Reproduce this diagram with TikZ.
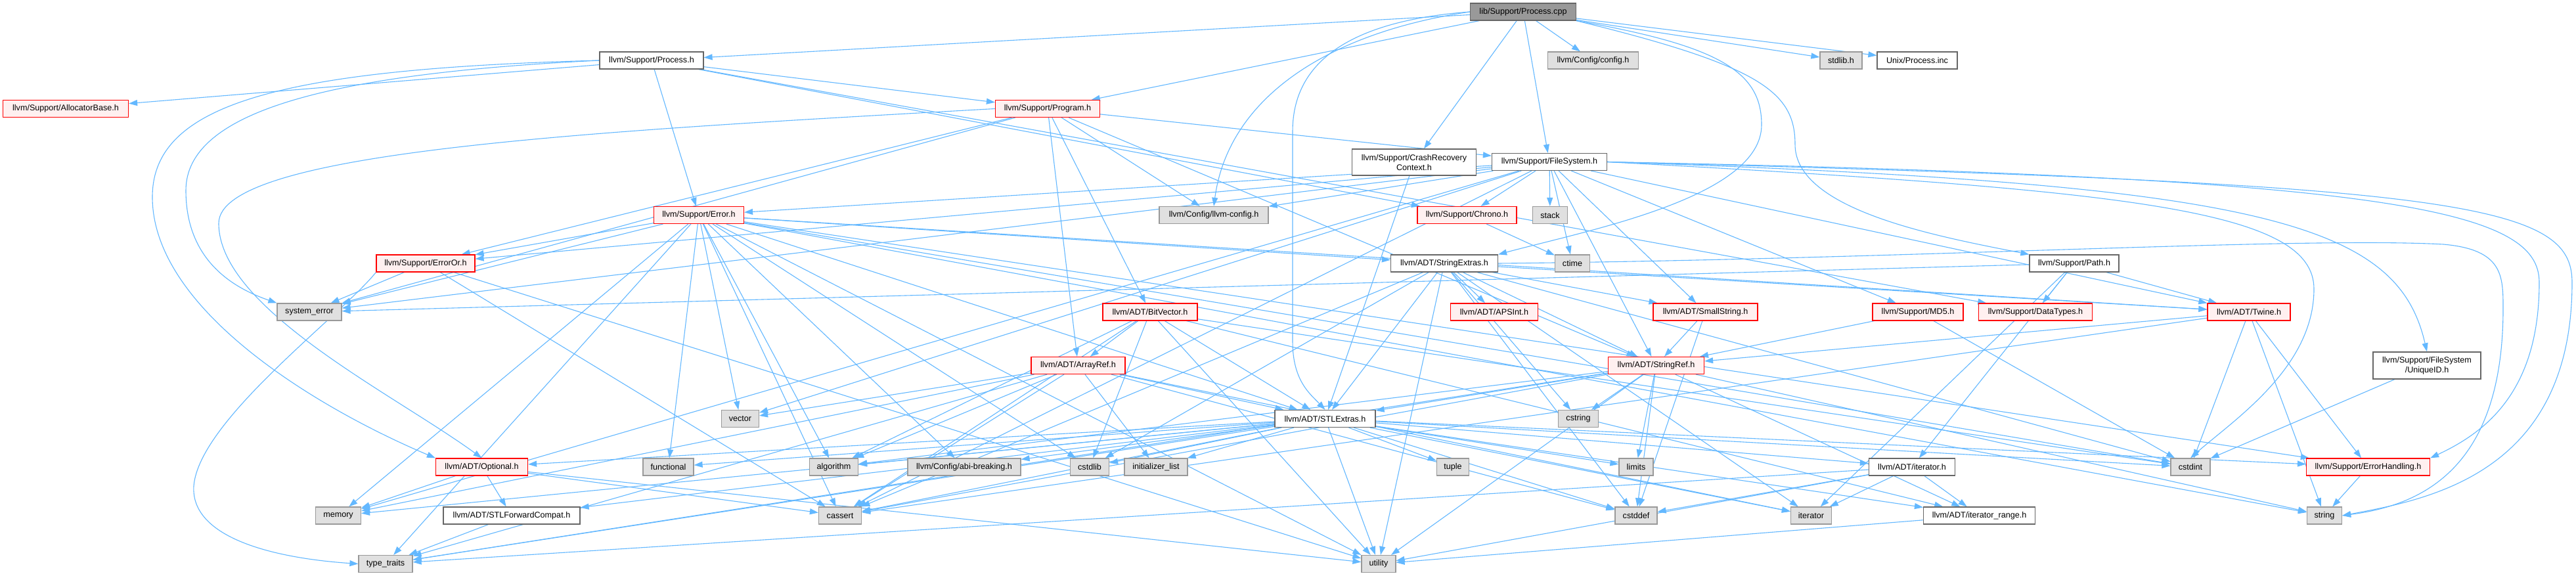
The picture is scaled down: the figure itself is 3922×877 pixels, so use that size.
\documentclass[tikz,border=0pt]{standalone}
\usepackage{fontspec}
\setmainfont{Liberation Sans}
\usetikzlibrary{arrows.meta}
\pgfdeclarelayer{bg}
\pgfsetlayers{bg,main}
\definecolor{edgec}{HTML}{63B8FF}
\definecolor{redb}{HTML}{FF0000}
\definecolor{redfill}{HTML}{FFF0F0}
\definecolor{grayb}{HTML}{999999}
\definecolor{grayfill}{HTML}{E0E0E0}
\definecolor{whiteb}{HTML}{666666}
\definecolor{rootfill}{HTML}{999999}
\definecolor{rootb}{HTML}{666666}
\newcommand\nodefont{\fontsize{12.6}{15}\selectfont}
\tikzset{
  basebox/.style={draw, line width=1.2pt, minimum height=26pt, inner sep=0pt, font=\nodefont, text=black, align=center},
  rednode/.style={basebox, draw=redb, fill=redfill},
  graynode/.style={basebox, draw=grayb, fill=grayfill},
  whitenode/.style={basebox, draw=whiteb, fill=white},
  rootnode/.style={basebox, draw=rootb, fill=rootfill},
  conn/.style={draw=edgec, line width=1.1pt, -{Triangle[length=13pt,width=9pt]}}
}
\begin{document}
\begin{tikzpicture}[x=1pt,y=-1pt]
\useasboundingbox (0,0) rectangle (3922,877);
\begin{pgfonlayer}{bg}
\fill[white] (0,0) rectangle (3922,877);
\end{pgfonlayer}
% nodes
\node[rootnode, minimum width=161pt] (pcpp) at (2319,18) {lib/Support/Process.cpp};
\node[whitenode, minimum width=158pt] (proch) at (992,92) {llvm/Support/Process.h};
\node[rednode, minimum width=191pt] (alloc) at (100,165.5) {llvm/Support/AllocatorBase.h};
\node[rednode, minimum width=159pt] (prog) at (1595,165.5) {llvm/Support/Program.h};
\node[rednode, minimum width=137pt] (err) at (1064,327.5) {llvm/Support/Error.h};
\node[rednode, minimum width=150pt] (erroror) at (648,401) {llvm/Support/ErrorOr.h};
\node[graynode, minimum width=166pt] (llcfg) at (1848,327.5) {llvm/Config/llvm-config.h};
\node[whitenode, minimum width=189pt, minimum height=40pt] (crash) at (2153,247) {llvm/Support/CrashRecovery\\Context.h};
\node[graynode, minimum width=138pt] (cfg) at (2425.5,92) {llvm/Config/config.h};
\node[graynode, minimum width=64pt] (stdlib) at (2803,92) {stdlib.h};
\node[whitenode, minimum width=122pt] (pinc) at (2919,92) {Unix/Process.inc};
\node[whitenode, minimum width=175pt] (fs) at (2359,246.5) {llvm/Support/FileSystem.h};
\node[rednode, minimum width=151pt] (chrono) at (2233.5,327.5) {llvm/Support/Chrono.h};
\node[graynode, minimum width=53pt] (stack) at (2360,327.5) {stack};
\node[whitenode, minimum width=163pt] (sext) at (2199,401) {llvm/ADT/StringExtras.h};
\node[graynode, minimum width=53pt] (ctime) at (2394,401) {ctime};
\node[whitenode, minimum width=136pt] (path) at (3158,401) {llvm/Support/Path.h};
\node[graynode, minimum width=98pt] (syserr) at (471,475) {system\_error};
\node[graynode, minimum width=69pt] (memory) at (515,785) {memory};
\node[graynode, minimum width=82pt] (tt) at (587,858.5) {type\_traits};
\node[rednode, minimum width=140pt] (opt) at (733.5,711) {llvm/ADT/Optional.h};
\node[graynode, minimum width=77pt] (functional) at (1017.5,711) {functional};
\node[graynode, minimum width=74pt] (algorithm) at (1269.5,711) {algorithm};
\node[graynode, minimum width=57pt] (vector) at (1127,637.5) {vector};
\node[whitenode, minimum width=208pt] (stlfc) at (779,785) {llvm/ADT/STLForwardCompat.h};
\node[graynode, minimum width=65pt] (cassert) at (1279,785) {cassert};
\node[rednode, minimum width=144pt] (bitv) at (1751,475) {llvm/ADT/BitVector.h};
\node[rednode, minimum width=143pt] (aref) at (1641.5,556.5) {llvm/ADT/ArrayRef.h};
\node[graynode, minimum width=172pt] (abi) at (1468,711) {llvm/Config/abi-breaking.h};
\node[graynode, minimum width=59pt] (cstdlib) at (1659,711) {cstdlib};
\node[graynode, minimum width=96pt] (initlist) at (1760,711) {initializer\_list};
\node[whitenode, minimum width=153pt] (stlx) at (2017.5,637.5) {llvm/ADT/STLExtras.h};
\node[rednode, minimum width=133pt] (apsint) at (2275,475) {llvm/ADT/APSInt.h};
\node[rednode, minimum width=159pt] (sstr) at (2596.5,475) {llvm/ADT/SmallString.h};
\node[rednode, minimum width=146pt] (sref) at (2521.5,556.5) {llvm/ADT/StringRef.h};
\node[graynode, minimum width=61pt] (cstring) at (2403,637.5) {cstring};
\node[graynode, minimum width=49pt] (tuple) at (2212,711) {tuple};
\node[graynode, minimum width=52pt] (limits) at (2491,711) {limits};
\node[graynode, minimum width=64pt] (cstddef) at (2491,785) {cstddef};
\node[graynode, minimum width=52pt] (utility) at (2099,858.5) {utility};
\node[rednode, minimum width=138pt] (md5) at (2920,475) {llvm/Support/MD5.h};
\node[rednode, minimum width=173pt] (dtypes) at (3099,475) {llvm/Support/DataTypes.h};
\node[whitenode, minimum width=131pt] (iterh) at (2911,711) {llvm/ADT/iterator.h};
\node[graynode, minimum width=62pt] (iterator) at (2757.5,785) {iterator};
\node[whitenode, minimum width=170pt] (irange) at (3013.5,785) {llvm/ADT/iterator\_range.h};
\node[rednode, minimum width=126pt] (twine) at (3424,475) {llvm/ADT/Twine.h};
\node[whitenode, minimum width=164pt, minimum height=41pt] (uid) at (3695,556.5) {llvm/Support/FileSystem\\/UniqueID.h};
\node[graynode, minimum width=60pt] (cstdint) at (3335,711) {cstdint};
\node[rednode, minimum width=188pt] (ehand) at (3605.5,711) {llvm/Support/ErrorHandling.h};
\node[graynode, minimum width=53pt] (string) at (3539,785) {string};
% edges
\begin{pgfonlayer}{bg}
\foreach \s/\t in {
 pcpp/proch, pcpp/prog, pcpp/crash, pcpp/cfg, pcpp/fs, pcpp/stdlib, pcpp/pinc,
 proch/alloc, proch/err, proch/prog, proch/chrono, proch/dtypes,
 prog/aref, prog/bitv, prog/sref, prog/llcfg, prog/erroror, prog/fs, prog/syserr,
 fs/sstr, fs/sref, fs/twine, fs/llcfg, fs/chrono, fs/err, fs/erroror, fs/md5, fs/cassert, fs/ctime, fs/memory, fs/stack, fs/syserr, fs/vector,
 err/stlx, err/sext, err/twine, err/abi, err/ehand, err/erroror, err/algorithm, err/cassert, err/cstdint, err/cstdlib, err/functional, err/memory, err/string, err/syserr, err/tt, err/utility, err/vector,
 erroror/syserr, erroror/cassert, erroror/utility,
 opt/stlfc, opt/cassert, opt/memory, opt/utility,
 stlfc/tt, chrono/ctime, crash/stlx,
 sext/apsint, sext/sstr, sext/sref, sext/twine, sext/cassert, sext/cstddef, sext/cstdint, sext/cstdlib, sext/cstring, sext/iterator, sext/utility, sext/stlx,
 path/twine, path/iterh, path/dtypes, path/iterator, path/syserr,
 twine/sref, twine/ehand, twine/cassert, twine/cstdint, twine/string,
 md5/sref, md5/cstdint, sstr/sref, sstr/cstddef,
 sref/stlx, sref/irange, sref/algorithm, sref/cassert, sref/cstddef, sref/cstring, sref/limits, sref/string, sref/tt, sref/utility,
 bitv/aref, bitv/stlx, bitv/irange, bitv/algorithm, bitv/cassert, bitv/cstdint, bitv/cstdlib, bitv/utility,
 aref/stlx, aref/algorithm, aref/cassert, aref/cstddef, aref/initlist, aref/iterator, aref/memory, aref/tt, aref/vector,
 stlx/opt, stlx/stlfc, stlx/iterh, stlx/irange, stlx/abi, stlx/ehand, stlx/algorithm, stlx/cassert, stlx/cstddef, stlx/cstdint, stlx/cstdlib, stlx/functional, stlx/initlist, stlx/iterator, stlx/limits, stlx/memory, stlx/tuple, stlx/tt, stlx/utility,
 iterh/irange, iterh/cstddef, iterh/iterator, iterh/tt, iterh/utility,
 irange/utility, ehand/string, uid/cstdint}
 { \draw[conn] (\s) -- (\t); }
% curved routes
\draw[conn] (proch.west) .. controls (420,105) and (232,160) .. (232,300) .. controls (232,470) and (480,620) .. (opt.north west);
\draw[conn] (proch.west) .. controls (500,112) and (283,170) .. (283,290) .. controls (283,400) and (360,440) .. (syserr.north west);
\draw[conn] (prog.west) .. controls (900,200) and (333,230) .. (333,340) .. controls (333,470) and (600,600) .. (opt.north);
\draw[conn] (erroror.south west) .. controls (520,480) and (303,640) .. (295,740) .. controls (290,820) and (420,850) .. (tt.west);
\draw[conn] (pcpp.west) .. controls (2080,30) and (1968,80) .. (1968,200) -- (1968,520) .. controls (1968,580) and (1995,600) .. (stlx.north);
\draw[conn] (pcpp.west) .. controls (2020,50) and (1870,150) .. (llcfg.north);
\draw[conn] (pcpp.south east) .. controls (2680,100) and (2733,140) .. (2733,220) .. controls (2733,320) and (2950,360) .. (path.north west);
\draw[conn] (pcpp.south east) .. controls (2620,70) and (2682,110) .. (2682,190) .. controls (2682,300) and (2420,350) .. (sext.north east);
\draw[conn] (fs.east) .. controls (3450,280) and (3650,340) .. (uid.north);
\draw[conn] (fs.east) .. controls (3650,270) and (3866,320) .. (3866,430) .. controls (3866,600) and (3780,660) .. (ehand.north east);
\draw[conn] (fs.east) .. controls (3750,280) and (3916,310) .. (3916,430) .. controls (3916,720) and (3700,760) .. (string.east);
\draw[conn] (fs.east) .. controls (3250,290) and (3523,320) .. (3523,440) .. controls (3523,560) and (3400,640) .. (cstdint.north);
\draw[conn] (sext.east) .. controls (2900,395) and (3500,360) .. (3720,372) .. controls (3811,380) and (3811,420) .. (3811,470) .. controls (3811,720) and (3680,770) .. (string.east);
\end{pgfonlayer}
\end{tikzpicture}
\end{document}
